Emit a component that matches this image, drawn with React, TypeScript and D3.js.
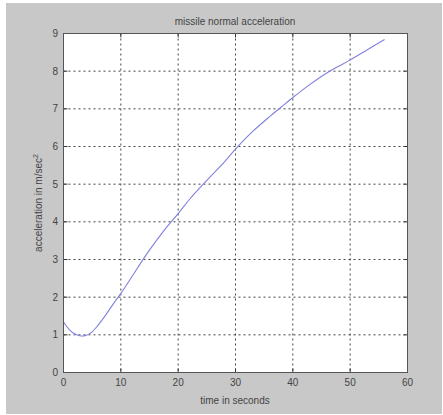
import React from "react";
import * as d3 from "d3";

const timeValues = [0, 1, 2, 3, 4, 5, 6, 7, 8, 9, 10, 12, 14, 16, 18, 20, 22, 25, 28, 30, 33, 36, 38, 40, 43, 46, 48, 50, 53, 56];
const accelValues = [1.34, 1.14, 1.02, 0.97, 0.99, 1.08, 1.25, 1.45, 1.67, 1.89, 2.1, 2.56, 3.03, 3.46, 3.86, 4.22, 4.6, 5.1, 5.58, 5.93, 6.4, 6.8, 7.05, 7.3, 7.65, 7.96, 8.13, 8.3, 8.57, 8.84];
const xTicks = [0, 10, 20, 30, 40, 50, 60];
const yTicks = [0, 1, 2, 3, 4, 5, 6, 7, 8, 9];

const W = 443;
const H = 415;
const left = 63.5;
const right = 407.5;
const top = 33.5;
const bottom = 372.5;

export default function App() {
  const x = d3.scaleLinear().domain([0, 60]).range([left, right]);
  const y = d3.scaleLinear().domain([0, 9]).range([bottom, top]);
  const pts: [number, number][] = timeValues.map((t, i) => [t, accelValues[i]]);
  const line = d3
    .line<[number, number]>()
    .x((d) => x(d[0]))
    .y((d) => y(d[1]))
    .curve(d3.curveCatmullRom.alpha(0.5));
  const font = "'Liberation Sans', Arial, sans-serif";
  const txt = "#444";
  return (
    <svg width={W} height={H} style={{ position: "absolute", left: 0, top: 0 }}>
      <rect x={0} y={0} width={W} height={H} fill="#ffffff" />
      <rect x={6} y={3} width={436} height={411} fill="#c8c8c8" />
      <rect x={left} y={top} width={right - left} height={bottom - top} fill="#ffffff" />
      {xTicks.slice(1, -1).map((t) => (
        <line key={"gx" + t} x1={x(t)} x2={x(t)} y1={top} y2={bottom} stroke="#444" strokeWidth={1} strokeDasharray="2,3" />
      ))}
      {yTicks.slice(1, -1).map((t) => (
        <line key={"gy" + t} x1={left} x2={right} y1={y(t)} y2={y(t)} stroke="#444" strokeWidth={1} strokeDasharray="2,3" />
      ))}
      {xTicks.map((t) => (
        <g key={"tx" + t}>
          <line x1={x(t)} x2={x(t)} y1={bottom} y2={bottom - 4} stroke="#333" />
          <line x1={x(t)} x2={x(t)} y1={top} y2={top + 4} stroke="#333" />
          <text x={x(t)} y={386} fontSize={10} fontFamily={font} fill={txt} textAnchor="middle">
            {t}
          </text>
        </g>
      ))}
      {yTicks.map((t) => (
        <g key={"ty" + t}>
          <line x1={left} x2={left + 4} y1={y(t)} y2={y(t)} stroke="#333" />
          <line x1={right} x2={right - 4} y1={y(t)} y2={y(t)} stroke="#333" />
          <text x={58} y={y(t) + 3.5} fontSize={10} fontFamily={font} fill={txt} textAnchor="end">
            {t}
          </text>
        </g>
      ))}
      <path d={line(pts) || ""} fill="none" stroke="#8080e0" strokeWidth={1.1} />
      <rect x={left} y={top} width={right - left} height={bottom - top} fill="none" stroke="#555" strokeWidth={1} />
      <text x={235} y={25} fontSize={10} fontFamily={font} fill={txt} textAnchor="middle">
        missile normal acceleration
      </text>
      <text x={235} y={404} fontSize={10} fontFamily={font} fill={txt} textAnchor="middle">
        time in seconds
      </text>
      <text transform={`translate(42,203) rotate(-90)`} fontSize={10} fontFamily={font} fill={txt} textAnchor="middle">
        acceleration in m/sec<tspan dy={-4} fontSize={7}>2</tspan>
      </text>
    </svg>
  );
}
